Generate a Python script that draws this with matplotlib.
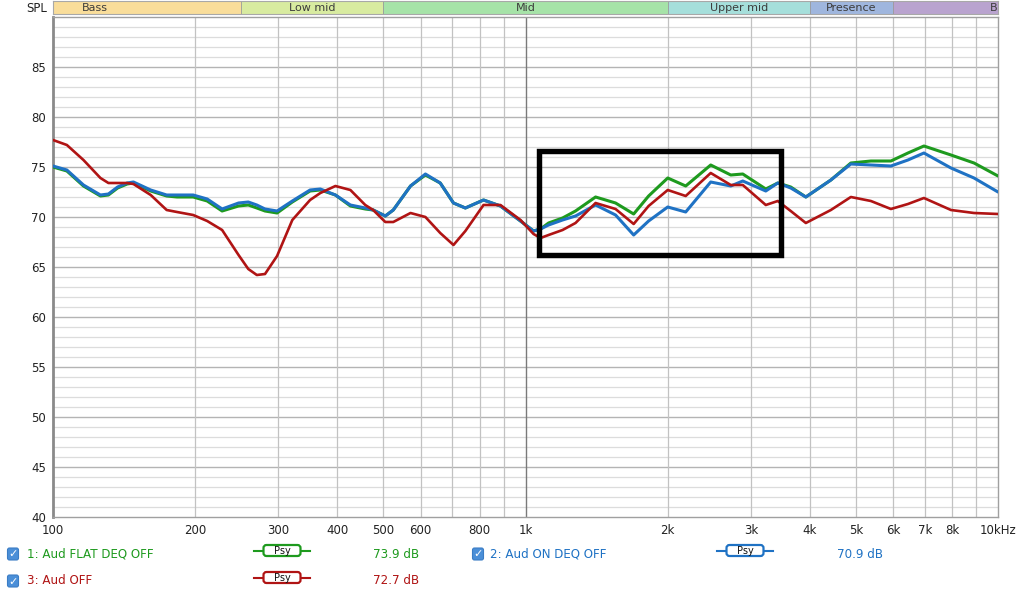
import numpy as np
import matplotlib
matplotlib.use('Agg')
import matplotlib.pyplot as plt
from matplotlib.patches import FancyBboxPatch, Rectangle

# ---------------- data ----------------
freq_hz = [100, 107, 116, 126, 131, 137, 143.5, 148, 161, 174,
           183, 198, 212, 228, 247, 259, 270, 281, 298, 321,
           350, 368, 396, 426, 458, 476, 505, 525, 571, 614,
           660, 704, 746, 815, 885, 976, 1040, 1076, 1119, 1198,
           1276, 1407, 1551, 1694, 1822, 2000, 2183, 2466, 2719, 2883,
           3225, 3419, 3642, 3920, 4429, 4882, 5383, 5934, 6448, 6970,
           7952, 8897, 10000]

spl_flat_deq_off = [75.0, 74.6, 73.1, 72.1, 72.2, 72.9, 73.3, 73.4, 72.6, 72.1,
                    72.0, 72.0, 71.6, 70.6, 71.1, 71.2, 70.9, 70.6, 70.4, 71.5,
                    72.6, 72.7, 72.2, 71.1, 70.8, 70.7, 70.1, 70.7, 73.1, 74.2,
                    73.4, 71.4, 70.9, 71.7, 71.1, 69.6, 68.6, 68.8, 69.4, 69.9,
                    70.6, 72.0, 71.4, 70.3, 72.1, 73.9, 73.1, 75.2, 74.2, 74.3,
                    72.8, 73.4, 73.0, 72.0, 73.7, 75.4, 75.6, 75.6, 76.4, 77.1,
                    76.2, 75.4, 74.1]

spl_on_deq_off = [75.1, 74.7, 73.2, 72.2, 72.3, 73.0, 73.4, 73.5, 72.7, 72.2,
                  72.2, 72.2, 71.8, 70.8, 71.4, 71.5, 71.2, 70.8, 70.6, 71.6,
                  72.7, 72.8, 72.2, 71.2, 70.9, 70.7, 70.1, 70.7, 73.1, 74.3,
                  73.4, 71.4, 70.9, 71.7, 71.1, 69.6, 68.6, 68.8, 69.2, 69.7,
                  70.1, 71.2, 70.2, 68.2, 69.6, 71.0, 70.5, 73.5, 73.1, 73.6,
                  72.6, 73.4, 72.9, 72.0, 73.7, 75.3, 75.2, 75.1, 75.7, 76.4,
                  74.9, 73.9, 72.5]

spl_aud_off = [77.7, 77.2, 75.7, 73.9, 73.4, 73.4, 73.4, 73.3, 72.2, 70.7,
               70.5, 70.2, 69.6, 68.7, 66.2, 64.8, 64.2, 64.3, 66.1, 69.7,
               71.7, 72.4, 73.1, 72.7, 71.2, 70.7, 69.5, 69.5, 70.4, 70.0,
               68.4, 67.2, 68.6, 71.2, 71.2, 69.7, 68.3, 67.9, 68.2, 68.7,
               69.4, 71.4, 70.8, 69.3, 71.1, 72.7, 72.1, 74.4, 73.2, 73.2,
               71.2, 71.6, 70.6, 69.4, 70.7, 72.0, 71.6, 70.8, 71.3, 71.9,
               70.7, 70.4, 70.3]

series_names = ["1: Aud FLAT DEQ OFF", "2: Aud ON DEQ OFF", "3: Aud OFF"]
series_levels = ["73.9 dB", "70.9 dB", "72.7 dB"]
series_colors = ["#1e9a1e", "#1f72c4", "#b01414"]

band_names = ["Bass", "Low mid", "Mid", "Upper mid", "Presence", "B"]
band_edges = [60, 250, 500, 2000, 4000, 6000, 20000]
band_colors = ["#f9dd9a", "#d8eba0", "#a6e3a8", "#a5dfdb", "#9fb6de", "#b9a3cf"]

xtick_vals = [100, 200, 300, 400, 500, 600, 800, 1000, 2000, 3000, 4000, 5000, 6000, 7000, 8000, 10000]
xtick_labels = ["100", "200", "300", "400", "500", "600", "800", "1k", "2k", "3k",
                "4k", "5k", "6k", "7k", "8k", "10kHz"]
ytick_vals = [40, 45, 50, 55, 60, 65, 70, 75, 80, 85]

highlight_f = [1067, 3470]
highlight_db = [66.16, 76.56]

# ---------------- figure ----------------
W, H = 1024, 598
fig = plt.figure(figsize=(W / 100, H / 100), dpi=100)
fig.patch.set_facecolor("white")

def fx(px):
    return px / W

def fy(py):
    return 1 - py / H

ax = fig.add_axes([fx(53), fy(517), fx(998) - fx(53), fy(17) - fy(517)])
ax.set_xscale("log")
ax.set_xlim(100, 10000)
ax.set_ylim(40, 90)

# grid
for d in range(41, 90):
    if d % 5 == 0:
        ax.axhline(d, color="#b4b4b4", lw=1.0, zorder=0)
    else:
        ax.axhline(d, color="#dcdcdc", lw=0.9, zorder=0)
for f in list(range(200, 1000, 100)) + list(range(2000, 10000, 1000)):
    ax.axvline(f, color="#c2c2c2", lw=0.9, zorder=0)
ax.axvline(1000, color="#7a7a7a", lw=1.0, zorder=0)

ax.set_xticks(xtick_vals)
ax.set_xticklabels(xtick_labels)
ax.minorticks_off()
ax.set_yticks(ytick_vals)
ax.tick_params(axis="both", length=0, labelsize=8.5, colors="#222222")
ax.tick_params(axis="x", pad=5)
ax.tick_params(axis="y", pad=5)

for s in ["top", "bottom", "right"]:
    ax.spines[s].set_color("#a0a0a0")
    ax.spines[s].set_linewidth(1.0)
ax.spines["left"].set_color("#8a8a8a")
ax.spines["left"].set_linewidth(2.0)

# curves
ax.plot(freq_hz, spl_flat_deq_off, color=series_colors[0], lw=2.2, zorder=3,
        solid_joinstyle="round", solid_capstyle="round")
ax.plot(freq_hz, spl_on_deq_off, color=series_colors[1], lw=2.2, zorder=4,
        solid_joinstyle="round", solid_capstyle="round")
ax.plot(freq_hz, spl_aud_off, color=series_colors[2], lw=1.9, zorder=5,
        solid_joinstyle="round", solid_capstyle="round")

# highlight rectangle
ax.add_patch(Rectangle((highlight_f[0], highlight_db[0]),
                       highlight_f[1] - highlight_f[0],
                       highlight_db[1] - highlight_db[0],
                       fill=False, ec="black", lw=3.9, zorder=6))

# band bar
bx = fig.add_axes([fx(53), fy(14), fx(998) - fx(53), fy(1) - fy(14)])
bx.set_xscale("log")
bx.set_xlim(100, 10000)
bx.set_ylim(0, 1)
for i, name in enumerate(band_names):
    lo, hi = band_edges[i], band_edges[i + 1]
    bx.axvspan(lo, hi, color=band_colors[i], lw=0)
    if i > 0:
        bx.axvline(lo, color="#9a9a9a", lw=0.6)
    if i == len(band_names) - 1:
        bx.text(0.999, 0.45, name, ha="right", va="center", fontsize=8,
                color="#3c3c3c", transform=bx.transAxes)
    else:
        bx.text(np.sqrt(lo * hi), 0.45, name, ha="center", va="center",
                fontsize=8, color="#3c3c3c", clip_on=True)
bx.set_xticks([])
bx.set_yticks([])
bx.minorticks_off()
for s in bx.spines.values():
    s.set_color("#a8a8a8")
    s.set_linewidth(0.8)

fig.text(fx(47), fy(8), "SPL", ha="right", va="center", fontsize=8.5, color="#222222")

# legend area (overlay in pixel coordinates)
ov = fig.add_axes([0, 0, 1, 1])
ov.set_xlim(0, W)
ov.set_ylim(H, 0)
ov.axis("off")

def checkbox(x, y):
    ov.add_patch(FancyBboxPatch((x - 5.5, y - 6), 11, 12,
                                boxstyle="round,pad=0,rounding_size=2",
                                fc="#4b8fd8", ec="#3b7dc5", lw=0.8))
    ov.text(x, y + 0.5, "\u2713", ha="center", va="center", fontsize=8,
            color="white", fontweight="bold")

def psy(xc, y, color, halfline=28):
    ov.plot([xc - halfline, xc + halfline], [y, y], color=color, lw=1.5)
    ov.add_patch(FancyBboxPatch((xc - 18.5, y - 5.5), 37, 11,
                                boxstyle="round,pad=0,rounding_size=3",
                                fc="white", ec=color, lw=1.6, zorder=3))
    ov.text(xc, y + 0.5, "Psy", ha="center", va="center", fontsize=7,
            color="#111111", zorder=4)

legend_rows = [
    (13, 554, 27, 282, 373, 0),
    (478, 554, 490, 745, 837, 1),
    (13, 581, 27, 282, 373, 2),
]
for cbx, y, tx, px_, vx, k in legend_rows:
    checkbox(cbx, y)
    ov.text(tx, y, series_names[k], ha="left", va="center", fontsize=8.6,
            color=series_colors[k])
    psy(px_, y - 3.5, series_colors[k])
    ov.text(vx, y, series_levels[k], ha="left", va="center", fontsize=8.6,
            color=series_colors[k])

fig.savefig("out.png", dpi=100, facecolor="white")
